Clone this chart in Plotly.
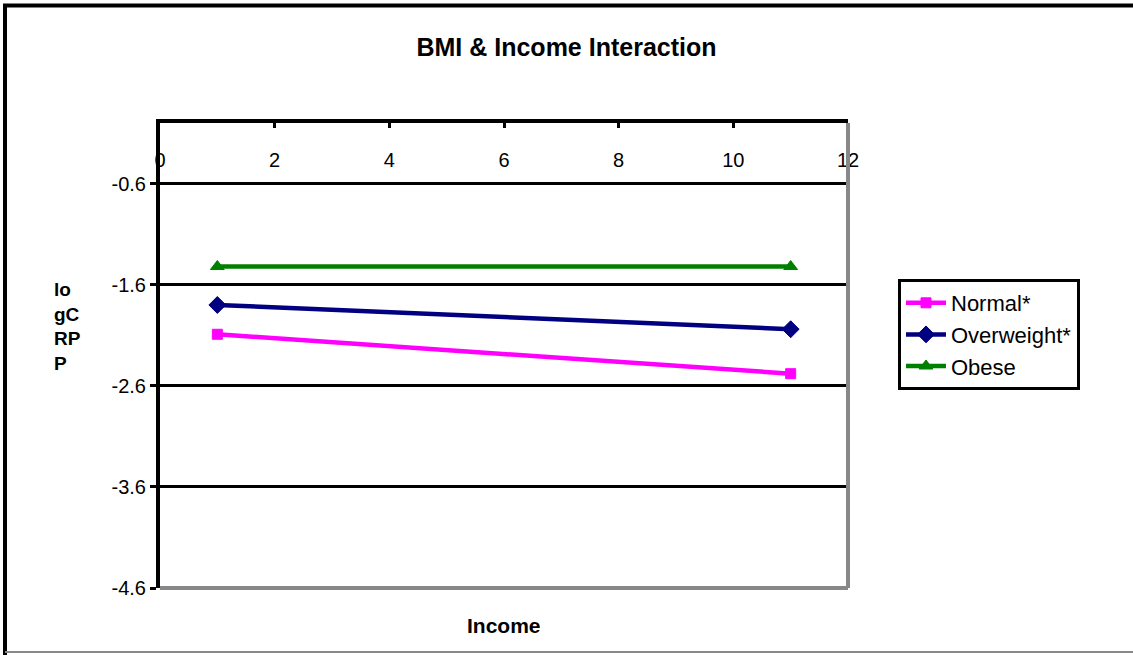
import plotly.graph_objects as go

income = [1, 11]
normal = [-2.09, -2.48]
overweight = [-1.80, -2.04]
obese = [-1.42, -1.42]

series_names = ["Normal*", "Overweight*", "Obese"]
y_ticks = [-4.6, -3.6, -2.6, -1.6, -0.6]
x_ticks = [0, 2, 4, 6, 8, 10, 12]

FONT = "Liberation Sans, Arial, sans-serif"

fig = go.Figure()
styles = [
    ("#FF00FF", "square", 10),
    ("#000080", "diamond", 13),
    ("#008000", "triangle-up", 12),
]
for name, vals, (col, sym, sz) in zip(series_names, [normal, overweight, obese], styles):
    fig.add_trace(go.Scatter(
        x=income, y=vals, name=name, mode="lines+markers",
        line=dict(color=col, width=4.5),
        marker=dict(symbol=sym, size=sz, color=col, line=dict(color=col, width=1)),
    ))

# invisible trace to carry the tick-label axis
fig.add_trace(go.Scatter(x=[0, 12], y=[0, 0], xaxis="x2", mode="markers",
                         marker=dict(opacity=0), showlegend=False, hoverinfo="skip"))

L, R, T, B = 160, 285, 123, 67
W, H = 1133, 655
pw, ph = W - L - R, H - T - B

def px_x(p):
    return (p - L) / pw

def px_y(p):
    return (H - B - p) / ph

fig.update_layout(
    width=W, height=H,
    margin=dict(l=L, r=R, t=T, b=B),
    paper_bgcolor="white", plot_bgcolor="white",
    font=dict(family=FONT, size=20, color="black"),
    title=dict(text="<b>BMI & Income Interaction</b>", x=0.5, xanchor="center",
               y=1 - 47 / H, yanchor="middle",
               font=dict(family=FONT, size=25, color="black")),
    xaxis=dict(range=[0, 12], tickvals=x_ticks, side="top",
               showline=True, linecolor="black", linewidth=4,
               ticks="inside", ticklen=5, tickwidth=3, tickcolor="black",
               showticklabels=False,
               showgrid=False, zeroline=False),
    xaxis2=dict(range=[0, 12], tickvals=x_ticks, overlaying="x", side="bottom",
                anchor="free", position=px_y(146), showline=False, ticks="",
                showgrid=False, zeroline=False,
                tickfont=dict(size=20, color="black")),
    yaxis=dict(range=[-4.6, 0], tickvals=y_ticks, ticktext=[str(v) for v in y_ticks],
               showline=True, linecolor="black", linewidth=4,
               ticks="outside", ticklen=6, tickwidth=3, tickcolor="black",
               showgrid=True, gridcolor="black", gridwidth=3,
               zeroline=False, tickfont=dict(size=20, color="black")),
    legend=dict(x=px_x(898), y=px_y(279), xanchor="left", yanchor="top",
                bordercolor="black", borderwidth=3, bgcolor="white",
                font=dict(size=22, color="black"), tracegroupgap=0, itemwidth=40),
    showlegend=True,
)

# plot area right/bottom gray borders
fig.add_shape(type="line", xref="paper", yref="paper", x0=1, x1=1, y0=0, y1=1,
              line=dict(color="#888888", width=4))
fig.add_shape(type="line", xref="paper", yref="paper", x0=0, x1=1, y0=0, y1=0,
              line=dict(color="#888888", width=4))
# outer frame
fig.add_shape(type="line", xref="paper", yref="paper", x0=px_x(5), x1=px_x(5),
              y0=px_y(655), y1=px_y(4), line=dict(color="black", width=4))
fig.add_shape(type="line", xref="paper", yref="paper", x0=px_x(3), x1=px_x(1133),
              y0=px_y(5.5), y1=px_y(5.5), line=dict(color="black", width=4))
fig.add_shape(type="line", xref="paper", yref="paper", x0=px_x(5), x1=px_x(1133),
              y0=px_y(652), y1=px_y(652), line=dict(color="#888888", width=2))

fig.add_annotation(text="<b>Income</b>", xref="paper", yref="paper",
                   x=0.5, y=px_y(625), xanchor="center", yanchor="middle",
                   showarrow=False, font=dict(size=21, family=FONT))
fig.add_annotation(text="<b>lo<br>gC<br>RP<br>P</b>", xref="paper", yref="paper",
                   x=px_x(52), y=px_y(326), xanchor="left", yanchor="middle", align="left",
                   showarrow=False, font=dict(size=19))

fig.write_html("out.html")
